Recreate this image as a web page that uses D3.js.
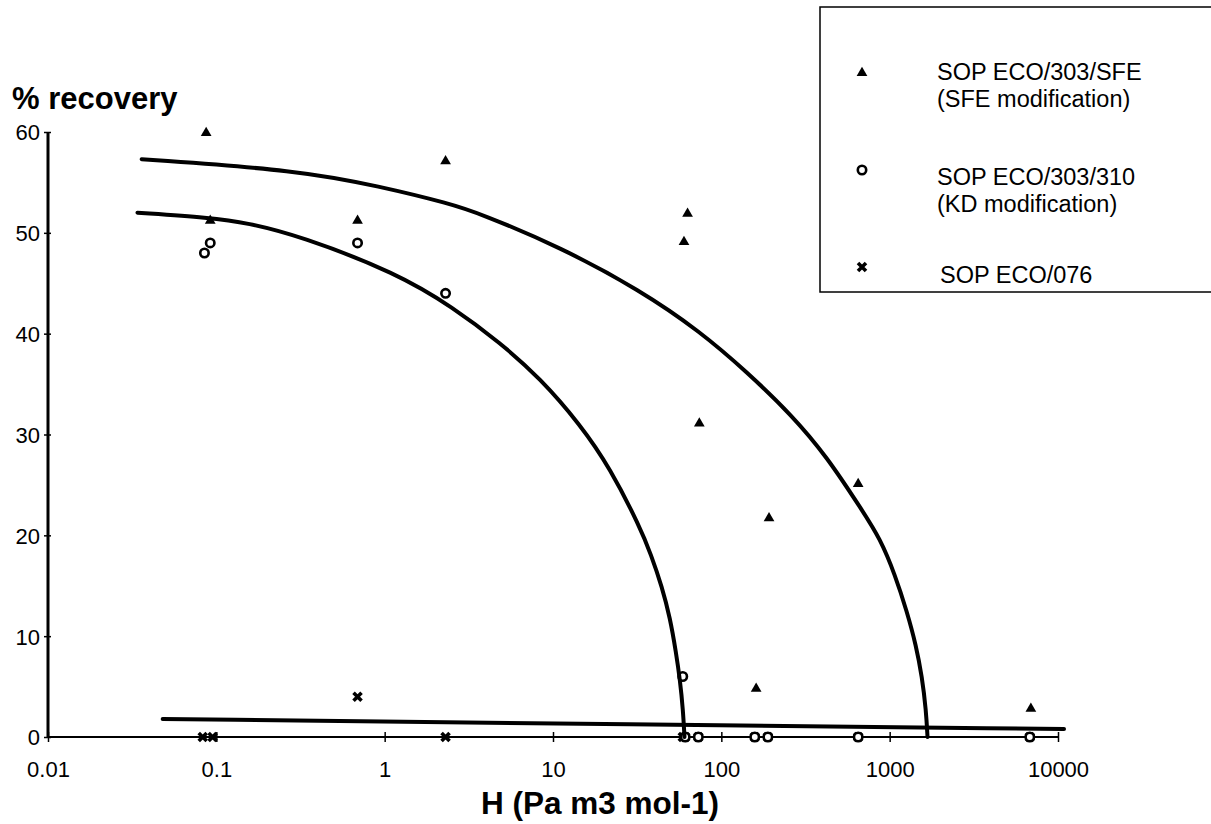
<!DOCTYPE html>
<html>
<head>
<meta charset="utf-8">
<script src="https://cdn.jsdelivr.net/npm/d3@7"></script>
<style>
  html, body { margin: 0; padding: 0; background: #fff; }
  svg { display: block; font-family: "Liberation Sans", Arial, Helvetica, sans-serif; }
</style>
</head>
<body>
<svg id="chart" width="1211" height="824"></svg>
<script>
// ---- data ----
const xTicks = [0.01, 0.1, 1, 10, 100, 1000, 10000];
const xTickLabels = ["0.01", "0.1", "1", "10", "100", "1000", "10000"];
const yTicks = [0, 10, 20, 30, 40, 50, 60];

// SOP ECO/303/SFE (triangles)
const sfeH = [0.087, 0.092, 0.69, 2.3, 60, 63, 74, 161, 192, 650, 6900];
const sfeY = [60, 51.3, 51.3, 57.2, 49.2, 52, 31.2, 4.9, 21.8, 25.2, 2.9];
// SOP ECO/303/310 (circles)
const kdH = [0.085, 0.092, 0.69, 2.3, 59, 61, 73, 158, 189, 650, 6800];
const kdY = [48, 49, 49, 44, 6, 0, 0, 0, 0, 0, 0];
// SOP ECO/076 (crosses)
const ecoH = [0.083, 0.095, 0.69, 2.3, 59, 61, 73, 158, 189, 650, 6800];
const ecoY = [0, 0, 4, 0, 0, 0, 0, 0, 0, 0, 0];

// hand-drawn trend curves
const sfeCurveH = [0.036, 0.31, 0.94, 2.44, 3.7, 11, 33, 75, 142, 263, 424, 685, 876, 1076, 1268, 1434, 1557, 1644, 1678];
const sfeCurveY = [57.3, 56.2, 54.6, 52.9, 51.9, 48.6, 44.3, 40.2, 36.2, 31.9, 27.8, 22.5, 19.7, 16.1, 12.4, 9.1, 5.95, 2.7, 0];
const kdCurveH = [0.034, 0.092, 0.152, 0.314, 1.18, 2.55, 4.85, 8.37, 14.5, 21.8, 32.9, 38.2, 44.4, 49.6, 53.8, 56.8, 59.2, 60.4];
const kdCurveY = [52.0, 51.5, 51.0, 49.7, 46.0, 42.6, 39.1, 35.6, 31.0, 26.7, 20.8, 18.1, 14.9, 11.8, 8.4, 5.65, 2.7, 0];
const ecoCurveH = [0.048, 19, 10860];
const ecoCurveY = [1.79, 1.29, 0.79];

const legendLabels = [
  ["SOP ECO/303/SFE", "(SFE modification)"],
  ["SOP ECO/303/310", "(KD modification)"],
  ["SOP ECO/076"]
];

// ---- drawing ----
const svg = d3.select("#chart");
const x = d3.scaleLog().domain([0.01, 10000]).range([48, 1058]);
const y = d3.scaleLinear().domain([0, 60]).range([737, 132]);

// axes
const yAxis = d3.axisLeft(y).tickValues(yTicks).tickSize(6).tickFormat(d3.format("d"));
const gy = svg.append("g").attr("transform", "translate(48,0)").call(yAxis);
gy.select(".domain").attr("stroke", "#000").attr("stroke-width", 3).attr("d", `M0,${y(60)}V${y(0)}`);
gy.selectAll(".tick line").attr("x1", -4).attr("x2", 3).attr("stroke-width", 1.5);
gy.selectAll(".tick text").attr("x", -8).attr("dy", "0.36em")
  .style("font-size", "22px").attr("fill", "#000");

const xAxis = d3.axisBottom(x).tickValues(xTicks).tickSize(6)
  .tickFormat((d, i) => xTickLabels[i]);
const gx = svg.append("g").attr("transform", `translate(0,${y(0)})`).call(xAxis);
gx.select(".domain").attr("stroke", "#000").attr("stroke-width", 2).attr("d", `M${x(0.01)},0H${x(10000)}`);
gx.selectAll(".tick line").attr("y1", -5).attr("y2", 5).attr("stroke-width", 1.5);
gx.selectAll(".tick text").attr("y", 40).attr("dy", 0)
  .style("font-size", "22px").attr("fill", "#000");

// axis titles
svg.append("text").attr("x", 12).attr("y", 109)
  .style("font-size", "31px").style("font-weight", "bold").text("% recovery");
svg.append("text").attr("x", 600).attr("y", 814).attr("text-anchor", "middle")
  .style("font-size", "31.5px").style("font-weight", "bold").text("H (Pa m3 mol-1)");

// marker helpers
const triPath = d3.symbol().type(d3.symbolTriangle).size(50)();
function drawTri(g, cx, cy) {
  g.append("path").attr("d", triPath).attr("transform", `translate(${cx},${cy + 1})`)
    .attr("fill", "#000");
}
function drawCirc(g, cx, cy) {
  g.append("circle").attr("cx", cx).attr("cy", cy).attr("r", 4.2)
    .attr("fill", "#fff").attr("stroke", "#000").attr("stroke-width", 2.6);
}
function drawX(g, cx, cy) {
  g.append("path").attr("d", `M${cx - 4},${cy - 4}L${cx + 4},${cy + 4}M${cx + 4},${cy - 4}L${cx - 4},${cy + 4}`)
    .attr("stroke", "#000").attr("stroke-width", 3.6).attr("fill", "none");
}

const marks = svg.append("g");
ecoH.forEach((h, i) => drawX(marks, x(h), y(ecoY[i])));
kdH.forEach((h, i) => drawCirc(marks, x(h), y(kdY[i])));
sfeH.forEach((h, i) => drawTri(marks, x(h), y(sfeY[i])));

// curves
const line = d3.line().x(d => x(d[0])).y(d => y(d[1])).curve(d3.curveBasis);
function drawCurve(hs, ys) {
  svg.append("path").datum(hs.map((h, i) => [h, ys[i]]))
    .attr("d", line).attr("fill", "none").attr("stroke", "#000")
    .attr("stroke-width", 4).attr("stroke-linecap", "round");
}
drawCurve(sfeCurveH, sfeCurveY);
drawCurve(kdCurveH, kdCurveY);
drawCurve(ecoCurveH, ecoCurveY);

// legend
const lg = svg.append("g");
lg.append("rect").attr("x", 820).attr("y", 7).attr("width", 400).attr("height", 285)
  .attr("fill", "#fff").attr("stroke", "#000").attr("stroke-width", 1.5);
const legendMarkY = [72, 170, 267];
const legendTextY = [[80, 107], [185, 212], [283]];
const legendDraw = [drawTri, drawCirc, drawX];
legendLabels.forEach((lines, i) => {
  legendDraw[i](lg, 862, legendMarkY[i]);
  lines.forEach((t, j) => {
    lg.append("text").attr("x", i === 2 ? 940 : 937).attr("y", legendTextY[i][j])
      .style("font-size", "23.5px").text(t);
  });
});
</script>
</body>
</html>
